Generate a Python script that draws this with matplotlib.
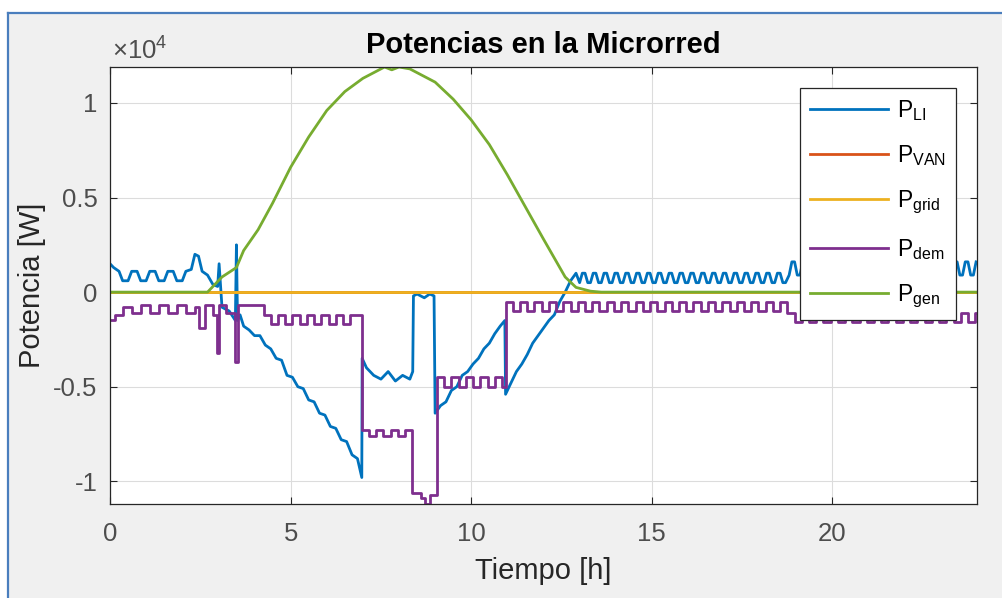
import matplotlib
matplotlib.use("Agg")
import matplotlib.pyplot as plt
import numpy as np
from matplotlib.patches import Rectangle
from matplotlib.lines import Line2D
from matplotlib.ticker import FuncFormatter

plt.rcParams['font.family'] = ['Liberation Sans', 'DejaVu Sans']
plt.rcParams['mathtext.fontset'] = 'custom'
plt.rcParams['mathtext.rm'] = 'Liberation Sans'
plt.rcParams['mathtext.it'] = 'Liberation Sans'

# ---- datos (tiempo en h, potencia en W) ----
# P_LI: batería de litio, tramo de madrugada y día
t_li_dia = [0, 0.1, 0.25, 0.35, 0.5, 0.6, 0.75, 0.85, 1.0, 1.1, 1.25, 1.35, 1.5, 1.6,
            1.75, 1.85, 2.0, 2.1, 2.25, 2.35, 2.45, 2.55, 2.7, 2.85, 2.98, 3.02, 3.1,
            3.3, 3.47, 3.5, 3.53, 3.6,
            3.7, 3.85, 4.0, 4.15, 4.3, 4.45, 4.6, 4.75, 4.9, 5.05, 5.2, 5.35, 5.5, 5.65,
            5.8, 5.95, 6.1, 6.25, 6.4, 6.55, 6.7, 6.85, 6.97,
            6.98, 7.1, 7.3, 7.5, 7.7, 7.9, 8.1, 8.3, 8.38,
            8.4, 8.5, 8.7, 8.85, 8.97,
            9.0, 9.15, 9.3, 9.45, 9.6, 9.75, 9.9, 10.05, 10.2, 10.35, 10.5, 10.65, 10.8, 10.93,
            10.95, 11.1, 11.25, 11.4, 11.55, 11.7, 11.85, 12.0, 12.15, 12.3, 12.45, 12.6, 12.75,
            12.9]
p_li_dia = [1500, 1300, 1100, 600, 600, 1100, 1100, 600, 600, 1100, 1100, 600, 600, 1100,
            1100, 600, 600, 1100, 1200, 2000, 1900, 1100, 900, 400, 300, 1500, -800,
            -1000, -1500, 2500, -1500, -1200,
            -1800, -2000, -2300, -2300, -2800, -3000, -3500, -3600, -4400, -4500, -5000, -5100, -5700, -5800,
            -6400, -6500, -7100, -7200, -7800, -7900, -8600, -8800, -9800,
            -3500, -4000, -4400, -4600, -4200, -4700, -4400, -4600, -4200,
            -200, -100, -300, -100, -200,
            -6400, -6000, -5800, -5200, -5000, -4400, -4200, -3800, -3500, -3000, -2700, -2200, -1800, -1500,
            -5400, -4800, -4200, -3800, -3300, -2700, -2300, -1900, -1500, -1200, -500, 0, 600,
            1000]
# P_LI: tarde (13.0 a 18.7 h, cada 0.075 h)
p_li_tarde = [500, 1000, 1000, 500, 500, 1000, 1000, 500, 500, 1000, 1000, 500,
              500, 1000, 1000, 500, 500, 1000, 1000, 500, 500, 1000, 1000, 500,
              500, 1000, 1000, 500, 500, 1000, 1000, 500, 500, 1000, 1000, 500,
              500, 1000, 1000, 500, 500, 1000, 1000, 500, 500, 1000, 1000, 500,
              500, 1000, 1000, 500, 500, 1000, 1000, 500, 500, 1000, 1000, 500,
              500, 1000, 1000, 500, 500, 1000, 1000, 500, 500, 1000, 1000, 500,
              500, 1000, 1000, 500, 500]
# P_LI: noche (18.8 a 24.0 h, cada 0.075 h)
p_li_noche = [900, 1600, 1600, 900, 900, 1600, 1600, 900, 900, 1600, 1600, 900,
              900, 1600, 1600, 900, 900, 1600, 1600, 900, 900, 1600, 1600, 900,
              900, 1600, 1600, 900, 900, 1600, 1600, 900, 900, 1600, 1600, 900,
              900, 1600, 1600, 900, 900, 1600, 1600, 900, 900, 1600, 1600, 900,
              900, 1600, 1600, 900, 900, 1600, 1600, 900, 900, 1600, 1600, 900,
              900, 1600, 1600, 900, 900, 1600, 1600, 900, 900, 1600]
t_li_tarde = np.round(np.arange(len(p_li_tarde)) * 0.075 + 13.0, 3)
t_li_noche = np.round(np.arange(len(p_li_noche)) * 0.075 + 18.8, 3)

# P_VAN y P_grid: nulas todo el día
t_van = [0, 24]
p_van = [0, 0]
t_grid = [0, 24]
p_grid = [0, 0]

# P_dem: demanda (escalonada)
t_dem = [0, 0.15, 0.35, 0.6, 0.85, 1.1, 1.35, 1.6, 1.85, 2.1, 2.35, 2.45, 2.62,
         2.85, 2.97, 3.03, 3.2, 3.47, 3.53, 3.75, 4.0,
         4.25, 4.45, 4.65, 4.85, 5.05, 5.25, 5.45, 5.65, 5.85, 6.05, 6.25, 6.45, 6.65,
         6.97, 7.17, 7.37, 7.57, 7.77, 7.97, 8.17,
         8.37, 8.6, 8.72, 8.85,
         9.05, 9.25, 9.45, 9.65, 9.85, 10.05, 10.25, 10.45, 10.65, 10.85,
         10.95, 11.15, 11.35, 11.55, 11.75, 11.95, 12.15, 12.35, 12.55, 12.75,
         12.95, 13.15, 13.35, 13.55, 13.75, 13.95, 14.15, 14.35, 14.55, 14.75,
         14.95, 15.15, 15.35, 15.55, 15.75, 15.95, 16.15, 16.35, 16.55, 16.75,
         16.95, 17.15, 17.35, 17.55, 17.75, 17.95, 18.15, 18.35, 18.55,
         18.75, 18.95, 19.15, 19.35, 19.55, 19.75, 19.95, 20.15, 20.35, 20.55,
         20.75, 20.95, 21.15, 21.35, 21.55, 21.75, 21.95, 22.15, 22.35, 22.55,
         22.75, 22.95, 23.15, 23.35, 23.55, 23.75, 23.95, 24.0]
p_dem = [-1500, -1200, -800, -1100, -700, -1100, -700, -1100, -700, -1100, -800, -1900, -700,
         -1200, -3200, -700, -1100, -3700, -700, -700, -700,
         -1200, -1700, -1200, -1700, -1200, -1700, -1200, -1700, -1200, -1700, -1200, -1700, -1200,
         -7300, -7600, -7300, -7600, -7300, -7600, -7300,
         -10600, -10900, -11200, -10700,
         -4500, -5000, -4500, -5000, -4500, -5000, -4500, -5000, -4500, -5000,
         -500, -1000, -500, -1000, -500, -1000, -500, -1000, -500, -1000,
         -500, -1000, -500, -1000, -500, -1000, -500, -1000, -500, -1000,
         -500, -1000, -500, -1000, -500, -1000, -500, -1000, -500, -1000,
         -500, -1000, -500, -1000, -500, -1000, -500, -1000, -500,
         -1100, -1600, -1100, -1600, -1100, -1600, -1100, -1600, -1100, -1600,
         -1100, -1600, -1100, -1600, -1100, -1600, -1100, -1600, -1100, -1600,
         -1100, -1600, -1100, -1600, -1100, -1600, -1100, -1100]

# P_gen: generación fotovoltaica
t_gen = [0, 2.7, 3.1, 3.5, 3.7, 4.1, 4.5, 5.0, 5.5, 6.0, 6.5, 7.0, 7.4, 7.6, 7.8,
         8.0, 8.3, 8.6, 9.0, 9.5, 10.0, 10.5, 11.0, 11.5, 12.0, 12.3, 12.6, 12.9,
         13.3, 13.6, 24.0]
p_gen = [0, 0, 800, 1300, 2200, 3300, 4700, 6600, 8200, 9600, 10600, 11300, 11700, 11900, 11750,
         11900, 11800, 11500, 11100, 10200, 9100, 7800, 6200, 4500, 2800, 1800, 800, 250,
         50, 0, 0]

t_li = np.concatenate([t_li_dia, t_li_tarde, t_li_noche])
p_li = np.concatenate([p_li_dia, p_li_tarde, p_li_noche])

names = [r'P$_{\rm LI}$', r'P$_{\rm VAN}$', r'P$_{\rm grid}$', r'P$_{\rm dem}$', r'P$_{\rm gen}$']
colors = ['#0072BD', '#D95319', '#EDB120', '#7E2F8E', '#77AC30']
lw = 2.0

fig = plt.figure(figsize=(10.03, 5.98), dpi=100, facecolor='white')
W, H = 1003, 598
# fondo gris de la ventana con borde azul
fig.patches.append(Rectangle((8 / W, 0), 1 - 8 / W, (H - 13) / H, transform=fig.transFigure,
                             facecolor='#f0f0f0', edgecolor='none', zorder=-10))
fig.lines.append(Line2D([8 / W, 1], [(H - 13) / H] * 2, transform=fig.transFigure,
                        color='#4a7ebd', lw=1.6))
fig.lines.append(Line2D([8 / W] * 2, [0, (H - 13) / H], transform=fig.transFigure,
                        color='#4a7ebd', lw=1.6))

ax = fig.add_axes([110 / W, 1 - 504 / H, 867 / W, 437 / H])
ax.plot(t_li, p_li, color=colors[0], lw=lw, label=names[0])
ax.plot(t_van, p_van, color=colors[1], lw=lw, label=names[1])
ax.plot(t_grid, p_grid, color=colors[2], lw=lw, label=names[2])
ax.step(t_dem, p_dem, where='post', color=colors[3], lw=lw, label=names[3])
ax.plot(t_gen, p_gen, color=colors[4], lw=lw, label=names[4])

ax.set_xlim(0, 24)
ax.set_ylim(-11200, 11900)
ax.set_xticks([0, 5, 10, 15, 20])
ax.set_yticks([-10000, -5000, 0, 5000, 10000])
ax.yaxis.set_major_formatter(FuncFormatter(lambda v, pos: f"{v / 1e4:g}"))
ax.grid(True, color='#dcdcdc', lw=0.8)
ax.set_axisbelow(True)
ax.tick_params(direction='in', top=True, right=True, length=5, width=0.8,
               labelsize=18.5, colors='#262626', labelcolor='#4d4d4d')
ax.tick_params(axis='x', pad=13)
ax.tick_params(axis='y', pad=9)
for s in ax.spines.values():
    s.set_color('#262626')
    s.set_linewidth(0.9)

ax.text(0.002, 1.006, r'$\times$10$^{4}$', transform=ax.transAxes, fontsize=18.5,
        color='#4d4d4d', ha='left', va='bottom')
ax.set_title('Potencias en la Microrred', fontsize=21, fontweight='bold', pad=10)
ax.set_xlabel('Tiempo [h]', fontsize=21, color='#262626', labelpad=8)
ax.set_ylabel('Potencia [W]', fontsize=21, color='#262626', labelpad=5)

leg = ax.legend(loc='upper right', fontsize=16.5, frameon=True, fancybox=False,
                edgecolor='#262626', framealpha=1, borderaxespad=0.9,
                handlelength=3.4, labelspacing=0.9, handletextpad=0.4,
                borderpad=0.45)
leg.get_frame().set_linewidth(0.9)

fig.savefig('out.png', dpi=100, facecolor=fig.get_facecolor())
